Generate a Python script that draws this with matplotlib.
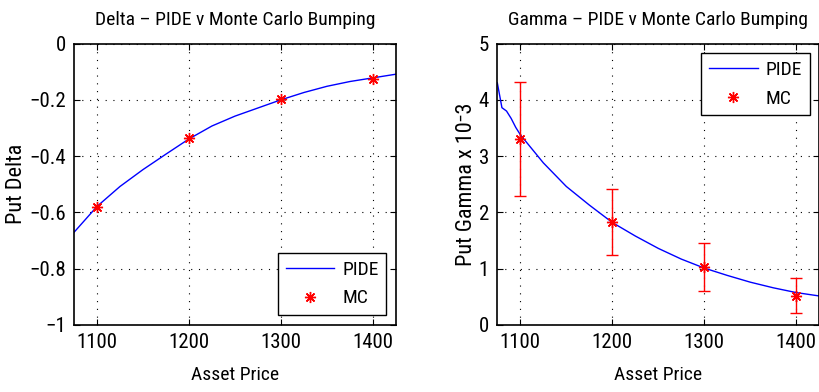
import matplotlib
matplotlib.use('Agg')
import matplotlib.pyplot as plt

plt.rcParams['font.family'] = ['Roboto Condensed', 'Liberation Sans', 'DejaVu Sans']
plt.rcParams['axes.unicode_minus'] = True

# PIDE curves
delta_price = [1075, 1100, 1125, 1150, 1175, 1200, 1225, 1250, 1275, 1300, 1325,
               1350, 1375, 1400, 1425]
delta_pide = [-0.671, -0.579, -0.508, -0.448, -0.393, -0.339, -0.293, -0.258,
              -0.229, -0.200, -0.174, -0.152, -0.135, -0.122, -0.109]
gamma_price = [1075, 1080, 1085, 1090, 1095, 1100, 1125, 1150, 1175, 1200, 1225,
               1250, 1275, 1300, 1325, 1350, 1375, 1400, 1425]
gamma_pide = [4.30, 3.86, 3.80, 3.67, 3.51, 3.38, 2.88, 2.46, 2.13, 1.82, 1.58,
              1.36, 1.17, 1.01, 0.88, 0.76, 0.66, 0.575, 0.515]

# Monte Carlo bumping
mc_price = [1100, 1200, 1300, 1400]
delta_mc = [-0.58, -0.335, -0.198, -0.125]
gamma_mc = [3.30, 1.83, 1.03, 0.52]
gamma_err = [1.01, 0.59, 0.42, 0.31]

fig = plt.figure(figsize=(8.2, 3.92), dpi=100)
ax1 = fig.add_axes([0.0902, 0.171, 0.3927, 0.718])
ax2 = fig.add_axes([0.6065, 0.171, 0.3927, 0.718])

star = (8, 2, 0)   # matlab style asterisk
fs = 14
leg_kw = dict(fontsize=fs, handlelength=2.5, handletextpad=0.4, fancybox=False,
              edgecolor='black', framealpha=1, borderpad=0.4, labelspacing=0.55,
              borderaxespad=0.5)

ax1.plot(delta_price, delta_pide, color='blue', lw=1.0, label='PIDE')
ax1.plot(mc_price, delta_mc, ls='none', marker=star, ms=8, mew=1.0,
         color='red', label='MC')
ax1.set_ylim(-1, 0)
ax1.set_yticks([-1, -0.8, -0.6, -0.4, -0.2, 0])
ax1.set_yticklabels(['\u22121', '\u22120.8', '\u22120.6', '\u22120.4', '\u22120.2', '0'])
ax1.set_title('Delta \u2013 PIDE v Monte Carlo Bumping', fontsize=fs, pad=13)
ax1.set_ylabel('Put Delta', fontsize=16, labelpad=1)
ax1.legend(loc='lower right', **leg_kw)

ax2.plot(gamma_price, gamma_pide, color='blue', lw=1.0, label='PIDE')
ax2.errorbar(mc_price, gamma_mc, yerr=gamma_err, ls='none', ecolor='red',
             elinewidth=1.0, capsize=4, capthick=1.0)
ax2.plot(mc_price, gamma_mc, ls='none', marker=star, ms=8, mew=1.0,
         color='red', label='MC')
ax2.set_ylim(0, 5)
ax2.set_yticks([0, 1, 2, 3, 4, 5])
ax2.set_title('Gamma \u2013 PIDE v Monte Carlo Bumping', fontsize=fs, pad=13)
ax2.set_ylabel('Put Gamma x 10\u207b3', fontsize=16, labelpad=1)
ax2.legend(loc='upper right', **leg_kw)

for ax in (ax1, ax2):
    ax.set_xlim(1075, 1425)
    ax.set_xticks([1100, 1200, 1300, 1400])
    ax.set_xlabel('Asset Price', fontsize=fs, labelpad=10)
    ax.grid(True, color='black', ls=(0, (1, 6)), lw=0.8)
    ax.tick_params(direction='in', top=True, right=True, labelsize=fs + 1,
                   length=4, pad=6)
    for s in ax.spines.values():
        s.set_linewidth(1.2)

fig.savefig('out.png', dpi=100)
